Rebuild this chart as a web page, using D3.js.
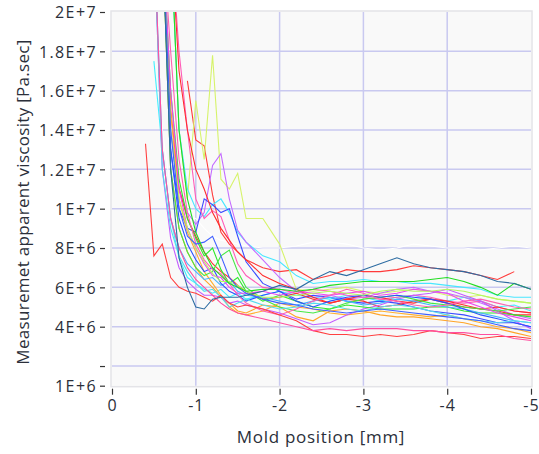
<!DOCTYPE html>
<html>
<head>
<meta charset="utf-8">
<script src="https://cdn.jsdelivr.net/npm/d3@7"></script>
<style>
  body { margin: 0; background: #fff; }
  text { font-family: "Open Sans", "Noto Sans", sans-serif; fill: #2b2f3a; }
</style>
</head>
<body>
<svg width="539" height="454"></svg>
<script>
// mold position grid [mm]
const positions = [-0.4,-0.5,-0.6,-0.7,-0.8,-0.9,-1.0,-1.1,-1.2,-1.3,-1.4,-1.5,-1.6,-1.8,-2.0,
  -2.2,-2.4,-2.6,-2.8,-3.0,-3.2,-3.4,-3.6,-3.8,-4.0,-4.2,-4.4,-4.6,-4.8,-5.0];

// viscosity per run, in units of 1E+6 Pa.sec (null = no sample)
const runRedHigh   = [null,null,null,null,null,16.5,13.5,13.2,10.7,8.8,8.2,7.8,7.4,7.0,6.8,6.9,6.4,6.6,6.9,6.8,6.8,6.9,7.1,7.0,6.9,6.8,6.6,6.4,6.8,null];
const runSteel     = [null,null,24,12,7.5,6.0,5.0,4.9,5.4,5.5,5.5,5.5,5.6,5.8,6.1,5.9,6.4,6.8,6.6,6.9,7.2,7.5,7.2,7.0,6.9,6.8,6.6,6.3,6.2,5.9];
const runGreenHigh = [null,null,null,24,14,10.5,8.8,7.8,7.0,6.6,6.2,6.0,5.8,5.9,5.9,5.8,5.9,6.1,6.2,6.3,6.3,6.3,6.3,6.4,6.5,6.3,6.0,5.6,6.2,5.9];
const runCyanA     = [null,17.5,13,9.5,7.5,6.5,6.2,5.9,5.7,5.9,5.5,5.7,5.4,5.6,5.8,5.6,5.5,5.4,5.6,5.5,5.3,5.5,5.6,5.4,5.3,5.5,5.3,5.0,5.1,4.8];
const runCyanB     = [null,null,null,24,14,11,10,9.6,10.2,10.5,9.8,8.8,8.3,7.6,7.3,6.6,6.2,6.3,6.3,6.4,6.3,6.3,6.2,6.2,6.1,6.0,5.9,5.6,5.5,5.5];
const runYellow    = [null,null,null,24,14,10.5,15.5,12.5,17.8,11.5,11.0,11.8,9.5,9.5,8.2,5.9,5.8,5.9,6.0,5.8,5.7,5.8,5.9,5.8,5.6,5.5,5.6,5.4,5.3,5.2];
const runRedLeft   = [13.3,7.6,8.2,6.5,6.0,5.8,5.7,5.5,5.3,5.6,5.2,5.0,5.1,4.9,4.6,4.3,3.8,3.6,3.6,3.5,3.6,3.5,3.6,3.8,3.7,3.6,3.4,3.5,3.5,3.4];
const runPinkLow   = [null,24,13,9.5,8.0,7.0,6.4,6.0,5.6,5.2,4.9,4.7,4.6,4.4,4.2,4.0,3.8,3.9,3.8,3.9,3.9,3.9,3.8,3.8,3.7,3.7,3.6,3.6,3.4,3.3];
const runPurple    = [null,null,24,14,11,9.8,9.2,9.8,12.2,12.8,10.5,8.9,8.3,7.4,6.5,5.8,5.5,5.6,5.4,5.5,5.7,5.9,6.0,5.8,5.7,5.5,5.2,4.9,4.6,4.4];
const runBlue      = [null,null,24,13,10,9.0,8.8,10.5,10.2,9.8,10.0,8.6,7.3,6.2,5.8,5.4,5.6,5.5,5.3,5.2,5.3,5.2,5.0,4.8,4.7,4.6,4.4,4.2,4.2,4.0];
const runPinkPeak  = [null,null,null,24,18,14,10.5,9.5,9.9,9.6,8.4,7.2,6.6,6.0,5.9,5.7,5.9,5.8,5.6,5.5,5.4,5.5,5.6,5.5,5.3,5.2,5.3,5.0,4.8,4.7];
const runRed2      = [null,null,24,15,11,9.5,8.6,7.8,7.2,6.8,6.5,6.1,5.8,5.4,5.5,5.7,5.4,5.2,5.4,5.6,5.5,5.3,5.2,5.4,5.3,5.1,4.9,4.8,4.6,4.6];
const runOrange    = [null,null,24,12,9.0,7.8,7.0,6.4,6.0,5.5,5.2,4.8,4.7,5.1,5.0,4.5,4.3,4.8,4.9,4.8,4.6,4.5,4.5,4.4,4.3,4.2,4.0,3.9,3.7,3.5];
const runOrange2   = [null,null,24,15,10.5,8.8,7.8,6.8,6.2,5.6,5.0,4.7,4.6,4.8,5.2,5.0,4.9,4.7,4.6,4.7,4.8,4.7,4.6,4.5,4.6,4.4,4.2,4.0,3.9,3.7];
const runPurple2   = [null,24,12,8.5,7.0,6.3,5.9,5.6,5.6,5.5,5.2,5.3,5.1,4.9,4.7,4.4,4.1,4.2,4.6,4.9,5.1,5.4,5.6,5.7,5.9,5.6,5.3,4.8,4.3,3.9];
const runGreen2    = [null,null,24,16,11.5,9.5,8.5,7.6,8.0,6.9,6.2,6.5,5.8,5.3,5.6,5.3,5.0,4.9,5.1,5.0,4.9,4.9,4.9,5.0,5.0,4.8,4.7,4.7,4.6,4.5];
const runGreen3    = [null,null,24,12,9,7.8,7.0,6.6,6.8,7.6,7.9,6.8,6.0,5.4,5.0,4.8,4.7,4.9,5.2,5.4,5.5,5.6,5.4,5.2,5.1,5.0,4.9,4.8,4.9,5.0];
const runLightBlue = [null,24,13,9.5,8.0,7.2,6.8,6.4,6.5,6.1,6.3,5.8,5.6,5.5,5.3,5.1,5.3,5.5,5.3,5.1,5.2,5.4,5.3,5.1,5.0,4.9,4.7,4.5,4.3,4.2];
const runBlue2     = [null,null,24,13,9.5,8.2,7.4,6.8,7.0,6.2,5.8,5.6,5.3,5.6,5.8,5.3,5.0,5.3,5.5,5.6,5.5,5.6,5.5,5.4,5.2,4.9,4.6,4.4,4.2,4.0];
const runMagenta   = [null,null,24,16,11,9.0,8.0,7.2,6.6,6.5,6.0,5.7,5.7,5.8,5.6,5.8,5.7,5.6,5.7,5.8,5.6,5.7,5.9,5.8,5.7,5.3,5.0,4.7,4.5,4.3];
const runPink2     = [null,null,24,18,12.5,9.8,8.2,7.4,6.9,6.7,6.2,5.6,5.2,4.8,4.6,4.9,5.3,5.6,5.9,5.7,5.4,5.3,5.1,5.0,5.1,5.3,5.4,5.2,5.0,4.9];
const runRed3      = [null,null,null,24,17,14,12,11.0,9.8,9.0,8.4,7.8,7.4,6.6,6.2,5.9,5.5,5.2,5.4,5.3,5.0,5.1,5.3,5.4,5.2,5.0,4.9,5.0,4.8,4.7];
const runCyan3     = [null,24,12,9.0,7.6,6.8,6.2,5.8,5.9,5.5,5.0,5.2,5.4,5.1,4.9,5.0,5.2,5.1,4.9,4.8,5.0,5.1,5.0,4.8,4.6,4.4,4.3,4.2,4.3,4.2];
const runLime      = [null,null,24,14,10.5,9.0,8.0,7.3,6.7,6.3,6.3,6.1,5.8,5.5,5.5,5.6,5.7,5.8,5.7,5.6,5.8,5.9,5.8,5.8,5.9,5.8,5.6,5.4,5.3,5.2];
const runBlue3     = [null,null,24,14,10,8.6,8.2,8.3,8.6,7.6,6.5,6.0,5.7,5.4,5.2,5.1,4.9,4.8,4.7,4.8,4.9,4.8,4.7,4.6,4.5,4.4,4.3,4.1,3.9,3.8];
const runWhite     = [null,22,14,11,9.8,9.6,9.5,9.0,8.6,8.4,8.3,8.2,8.1,8.0,8.0,8.1,8.3,8.3,8.2,8.0,7.9,8.0,8.2,8.1,8.0,8.0,7.9,8.0,8.1,8.0];

const runs = [
  { values: runWhite, color: "#ffffff" },
  { values: runRedHigh, color: "#ff3b3b" },
  { values: runYellow, color: "#d6f36a" },
  { values: runCyanA, color: "#3ff0ff" },
  { values: runCyanB, color: "#48e6ff" },
  { values: runPurple, color: "#c46cff" },
  { values: runBlue, color: "#3a4cff" },
  { values: runPinkPeak, color: "#ff5cb8" },
  { values: runRed3, color: "#ff2c2c" },
  { values: runRed2, color: "#ff3030" },
  { values: runOrange, color: "#ffa428" },
  { values: runOrange2, color: "#ffb030" },
  { values: runPurple2, color: "#c45cff" },
  { values: runGreen2, color: "#2ee82e" },
  { values: runGreen3, color: "#44e844" },
  { values: runLightBlue, color: "#48b4ff" },
  { values: runBlue2, color: "#2a52ff" },
  { values: runMagenta, color: "#ee48ee" },
  { values: runPink2, color: "#ff62b0" },
  { values: runCyan3, color: "#55dcee" },
  { values: runLime, color: "#b4f860" },
  { values: runBlue3, color: "#4060ff" },
  { values: runRedLeft, color: "#ff4040" },
  { values: runPinkLow, color: "#ff4fa0" },
  { values: runGreenHigh, color: "#22dd22" },
  { values: runSteel, color: "#2d6ca2" }
];

const unit = 1e6;
const xTicks = [0, -1, -2, -3, -4, -5];
const yTicks = [1e6, 2e6, 4e6, 6e6, 8e6, 1e7, 1.2e7, 1.4e7, 1.6e7, 1.8e7, 2e7];
const yTickLabels = ["1E+6", "", "4E+6", "6E+6", "8E+6", "1E+7", "1.2E+7", "1.4E+7", "1.6E+7", "1.8E+7", "2E+7"];

const svg = d3.select("svg");
const plotLeft = 112, plotRight = 531, plotTop = 12, plotBottom = 385.7;

const x = d3.scaleLinear().domain([0, -5]).range([plotLeft, plotRight]);
const y = d3.scaleLinear().domain([1e6, 2e7]).range([plotBottom, plotTop]);

// plot background
svg.append("rect")
  .attr("x", plotLeft - 1).attr("y", plotTop - 1)
  .attr("width", plotRight - plotLeft + 2).attr("height", plotBottom - plotTop + 2)
  .attr("fill", "#f9f9f9")
  .attr("stroke", "#e4e4e8").attr("stroke-width", 1.5);

// grid
const grid = svg.append("g");
grid.selectAll(".gy")
  .data(yTicks.filter(d => d > 1e6 && d < 2e7))
  .enter().append("line")
  .attr("x1", plotLeft).attr("x2", plotRight)
  .attr("y1", d => y(d)).attr("y2", d => y(d))
  .attr("stroke", "#c9c9f0").attr("stroke-width", 1.5);
grid.selectAll(".gx")
  .data(xTicks.filter(d => d < 0 && d > -5))
  .enter().append("line")
  .attr("y1", plotTop).attr("y2", plotBottom)
  .attr("x1", d => x(d)).attr("x2", d => x(d))
  .attr("stroke", "#c9c9f0").attr("stroke-width", 1.5);

svg.append("clipPath").attr("id", "plot")
  .append("rect").attr("x", plotLeft).attr("y", plotTop)
  .attr("width", plotRight - plotLeft).attr("height", plotBottom - plotTop);

const line = d3.line()
  .defined(d => d[1] != null)
  .x(d => x(d[0]))
  .y(d => y(d[1] * unit));

svg.append("g").attr("clip-path", "url(#plot)")
  .selectAll("path")
  .data(runs)
  .enter().append("path")
  .attr("d", r => line(positions.map((p, i) => [p, r.values[i]])))
  .attr("fill", "none")
  .attr("stroke", r => r.color)
  .attr("stroke-width", 1.1);

// y axis
const yAxis = svg.append("g").attr("transform", `translate(${plotLeft - 7},0)`)
  .call(d3.axisLeft(y).tickValues(yTicks)
    .tickFormat((d, i) => yTickLabels[i]).tickSize(5).tickPadding(3));
yAxis.select(".domain").remove();
yAxis.selectAll(".tick line").attr("stroke", "#333").attr("stroke-width", 1.2);
yAxis.selectAll("text").style("font-size", "16px").style("letter-spacing", "1.4px")
  .attr("fill", "#2b2f3a").attr("dy", "0.36em");

// x axis
const xAxis = svg.append("g").attr("transform", `translate(0,${plotBottom + 3})`)
  .call(d3.axisBottom(x).tickValues(xTicks)
    .tickFormat(d => d === 0 ? "0" : String(d)).tickSize(6).tickPadding(5));
xAxis.select(".domain").remove();
xAxis.selectAll(".tick line").attr("stroke", "#333").attr("stroke-width", 1.2);
xAxis.selectAll("text").style("font-size", "16px").style("letter-spacing", "1px")
  .attr("fill", "#2b2f3a");

svg.append("text")
  .attr("x", 321).attr("y", 443)
  .attr("text-anchor", "middle")
  .style("font-size", "17px").style("letter-spacing", "0.7px")
  .text("Mold position [mm]");

svg.append("text")
  .attr("transform", "translate(29,202) rotate(-90)")
  .attr("text-anchor", "middle")
  .style("font-size", "17px").style("letter-spacing", "0.3px")
  .text("Measuremet apparent viscosity [Pa.sec]");
</script>
</body>
</html>
